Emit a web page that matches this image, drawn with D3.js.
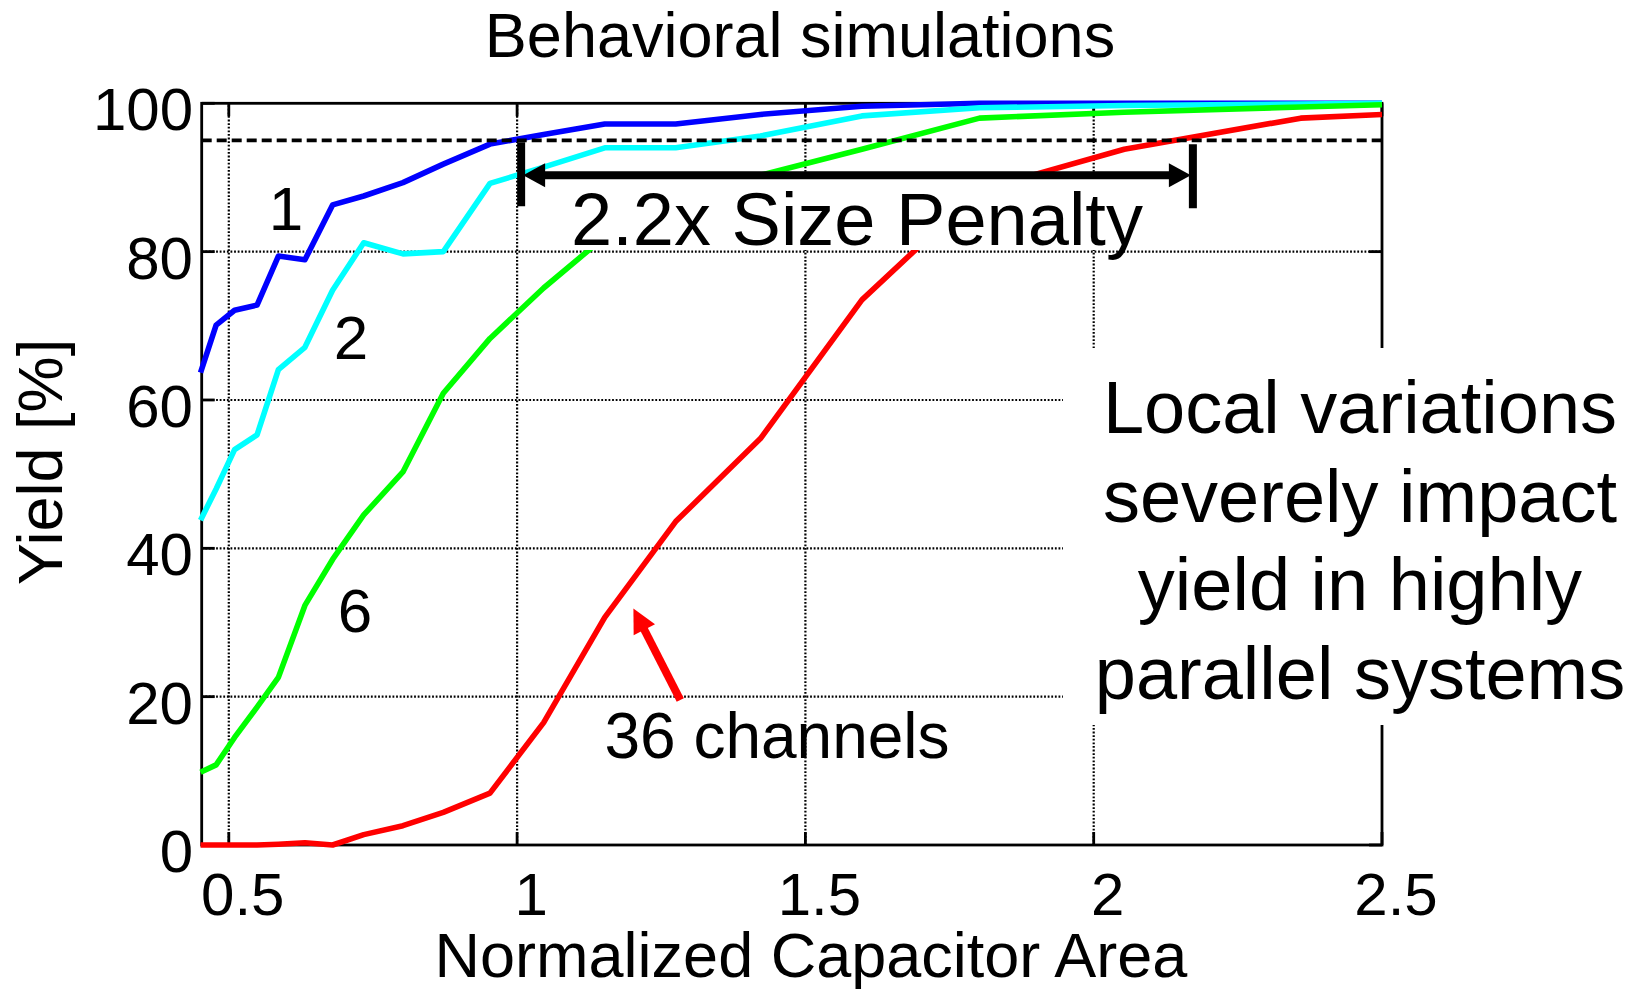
<!DOCTYPE html>
<html>
<head>
<meta charset="utf-8">
<script src="https://cdn.jsdelivr.net/npm/d3@7"></script>
<style>
body { margin: 0; background: #fff; }
svg { display: block; font-family: "Liberation Sans", Arial, sans-serif; }
</style>
</head>
<body>
<svg id="chart" width="1642" height="989"></svg>
<script>
// normalized capacitor area (x) and yield [%] per channel count
var area = [0.451, 0.478, 0.510, 0.549, 0.586, 0.632, 0.680, 0.734, 0.802, 0.872, 0.953, 1.046, 1.152, 1.275, 1.422, 1.598, 1.802, 2.053, 2.359, 2.5];
var yield1 = [63.7, 70.1, 72.1, 72.8, 79.4, 78.9, 86.3, 87.5, 89.3, 91.8, 94.5, 95.8, 97.2, 97.2, 98.5, 99.6, 100, 100, 100, 100];
var yield2 = [43.8, 48.0, 53.3, 55.3, 64.1, 67.1, 74.8, 81.2, 79.7, 80.0, 89.2, 91.4, 94.0, 94.0, 95.6, 98.3, 99.4, 99.7, 99.9, 100];
var yield6 = [9.8, 10.8, 14.5, 18.6, 22.6, 32.3, 38.5, 44.5, 50.3, 60.9, 68.3, 75.1, 82.0, 86.5, 90.3, 93.8, 98.0, 98.8, 99.5, 99.8];
var yield36 = [0, 0, 0, 0, 0.1, 0.3, 0, 1.4, 2.6, 4.4, 7.0, 16.5, 30.7, 43.6, 54.8, 73.5, 88.3, 93.8, 98.0, 98.5];

var seriesNames = ["1", "2", "6", "36"];
var seriesColors = ["#0000ff", "#00ffff", "#00ff00", "#ff0000"];
var seriesValues = [yield1, yield2, yield6, yield36];

var xTicks = [0.5, 1, 1.5, 2, 2.5];
var yTicks = [0, 20, 40, 60, 80, 100];
var targetYield = 95;

var svg = d3.select("#chart");

var x = d3.scaleLinear().domain([0.453, 2.5]).range([201.7, 1382]);
var y = d3.scaleLinear().domain([0, 100]).range([845, 103.3]);

// dotted grid
var grid = svg.append("g")
    .attr("stroke", "#000")
    .attr("stroke-width", 2.2)
    .attr("stroke-dasharray", "1.8,1.8");
grid.selectAll("line.gx")
    .data(xTicks.filter(function(d){ return d < 2.5; }))
    .enter().append("line")
    .attr("x1", function(d){ return x(d); })
    .attr("x2", function(d){ return x(d); })
    .attr("y1", y(0)).attr("y2", y(100));
grid.selectAll("line.gy")
    .data(yTicks.filter(function(d){ return d > 0 && d < 100; }))
    .enter().append("line")
    .attr("y1", function(d){ return y(d); })
    .attr("y2", function(d){ return y(d); })
    .attr("x1", x.range()[0]).attr("x2", x.range()[1]);

// axes box with inward ticks on all sides
var tickLen = 13;
var axes = svg.append("g").attr("stroke", "#000").attr("stroke-width", 2.8).attr("fill", "none");
axes.append("rect")
    .attr("x", x.range()[0]).attr("y", y(100))
    .attr("width", x.range()[1] - x.range()[0])
    .attr("height", y(0) - y(100));
xTicks.forEach(function(d){
    axes.append("line").attr("x1", x(d)).attr("x2", x(d)).attr("y1", y(0)).attr("y2", y(0) - tickLen);
    axes.append("line").attr("x1", x(d)).attr("x2", x(d)).attr("y1", y(100)).attr("y2", y(100) + tickLen);
});
yTicks.forEach(function(d){
    axes.append("line").attr("y1", y(d)).attr("y2", y(d)).attr("x1", x.range()[0]).attr("x2", x.range()[0] + tickLen);
    axes.append("line").attr("y1", y(d)).attr("y2", y(d)).attr("x1", x.range()[1]).attr("x2", x.range()[1] - tickLen);
});

// tick labels
svg.append("g").selectAll("text")
    .data(xTicks)
    .enter().append("text")
    .attr("x", function(d){ return x(d) + 14; })
    .attr("y", 915)
    .attr("text-anchor", "middle")
    .attr("font-size", 60)
    .text(function(d){ return d; });
svg.append("g").selectAll("text")
    .data(yTicks)
    .enter().append("text")
    .attr("x", 193)
    .attr("y", function(d){ return y(d) + 27; })
    .attr("text-anchor", "end")
    .attr("font-size", 60)
    .text(function(d){ return d; });

// curves
var line = d3.line()
    .x(function(d){ return x(d[0]); })
    .y(function(d){ return y(d[1]); });
svg.append("g").selectAll("path")
    .data(seriesValues)
    .enter().append("path")
    .attr("fill", "none")
    .attr("stroke", function(d, i){ return seriesColors[i]; })
    .attr("stroke-width", 5.6)
    .attr("stroke-linejoin", "round")
    .attr("d", function(vals){ return line(area.map(function(a, i){ return [a, vals[i]]; })); });

// 95% target line
svg.append("line")
    .attr("x1", x.range()[0]).attr("x2", x.range()[1])
    .attr("y1", y(targetYield)).attr("y2", y(targetYield))
    .attr("stroke", "#000").attr("stroke-width", 3.6)
    .attr("stroke-dasharray", "10,5");

// size penalty annotation
var penaltyFrom = 1.007, penaltyTo = 2.172, penaltyLevel = 90.3;
svg.append("rect")
    .attr("x", 555).attr("y", 176).attr("width", 605).attr("height", 74)
    .attr("fill", "#fff");
svg.append("text")
    .attr("x", 857).attr("y", 245)
    .attr("text-anchor", "middle")
    .attr("font-size", 74)
    .text("2.2x Size Penalty");

var ay = y(penaltyLevel), ax0 = x(penaltyFrom), ax1 = x(penaltyTo);
var pen = svg.append("g").attr("fill", "#000");
pen.append("rect").attr("x", ax0 - 4).attr("y", ay - 33).attr("width", 8).attr("height", 64);
pen.append("rect").attr("x", ax1 - 4).attr("y", ay - 31).attr("width", 8).attr("height", 64);
pen.append("rect").attr("x", ax0 + 20).attr("y", ay - 4).attr("width", ax1 - ax0 - 40).attr("height", 8);
pen.append("path").attr("d", "M" + (ax0 + 2) + "," + ay + "L" + (ax0 + 24) + "," + (ay - 12) + "L" + (ax0 + 24) + "," + (ay + 12) + "Z");
pen.append("path").attr("d", "M" + (ax1 - 2) + "," + ay + "L" + (ax1 - 24) + "," + (ay - 12) + "L" + (ax1 - 24) + "," + (ay + 12) + "Z");

// right-hand message box
svg.append("rect")
    .attr("x", 1063).attr("y", 348).attr("width", 579).attr("height", 377)
    .attr("fill", "#fff");
var msg = ["Local variations", "severely impact", "yield in highly", "parallel systems"];
svg.append("g").selectAll("text")
    .data(msg)
    .enter().append("text")
    .attr("x", 1360)
    .attr("y", function(d, i){ return 433 + i * 88.7; })
    .attr("text-anchor", "middle")
    .attr("font-size", 74)
    .text(function(d){ return d; });

// curve labels
var labelPos = [[0.599, 82.9], [0.712, 65.5], [0.719, 28.7]];
svg.append("g").selectAll("text")
    .data(labelPos)
    .enter().append("text")
    .attr("x", function(d){ return x(d[0]); })
    .attr("y", function(d){ return y(d[1]); })
    .attr("text-anchor", "middle")
    .attr("font-size", 62)
    .text(function(d, i){ return seriesNames[i]; });

svg.append("text")
    .attr("x", 777).attr("y", 758)
    .attr("text-anchor", "middle")
    .attr("font-size", 64)
    .text("36 channels");

// red pointer arrow
var tail = [x(1.283), y(19.55)], tip = [x(1.2017), y(31.9)];
var dx = tip[0] - tail[0], dy = tip[1] - tail[1], len = Math.sqrt(dx * dx + dy * dy);
var ux = dx / len, uy = dy / len, headLen = 24, headHalf = 12;
var bx = tip[0] - ux * headLen, by = tip[1] - uy * headLen;
svg.append("line")
    .attr("x1", tail[0]).attr("y1", tail[1])
    .attr("x2", bx + ux * 2).attr("y2", by + uy * 2)
    .attr("stroke", "#ff0000").attr("stroke-width", 8);
svg.append("path")
    .attr("fill", "#ff0000")
    .attr("d", "M" + tip[0] + "," + tip[1] +
        "L" + (bx - uy * headHalf) + "," + (by + ux * headHalf) +
        "L" + (bx + uy * headHalf) + "," + (by - ux * headHalf) + "Z");

// titles
svg.append("text")
    .attr("x", 800).attr("y", 57)
    .attr("text-anchor", "middle")
    .attr("font-size", 63)
    .text("Behavioral simulations");
svg.append("text")
    .attr("x", 811).attr("y", 977)
    .attr("text-anchor", "middle")
    .attr("font-size", 63)
    .text("Normalized Capacitor Area");
svg.append("text")
    .attr("transform", "translate(62,462) rotate(-90)")
    .attr("text-anchor", "middle")
    .attr("font-size", 63)
    .text("Yield [%]");
</script>
</body>
</html>
